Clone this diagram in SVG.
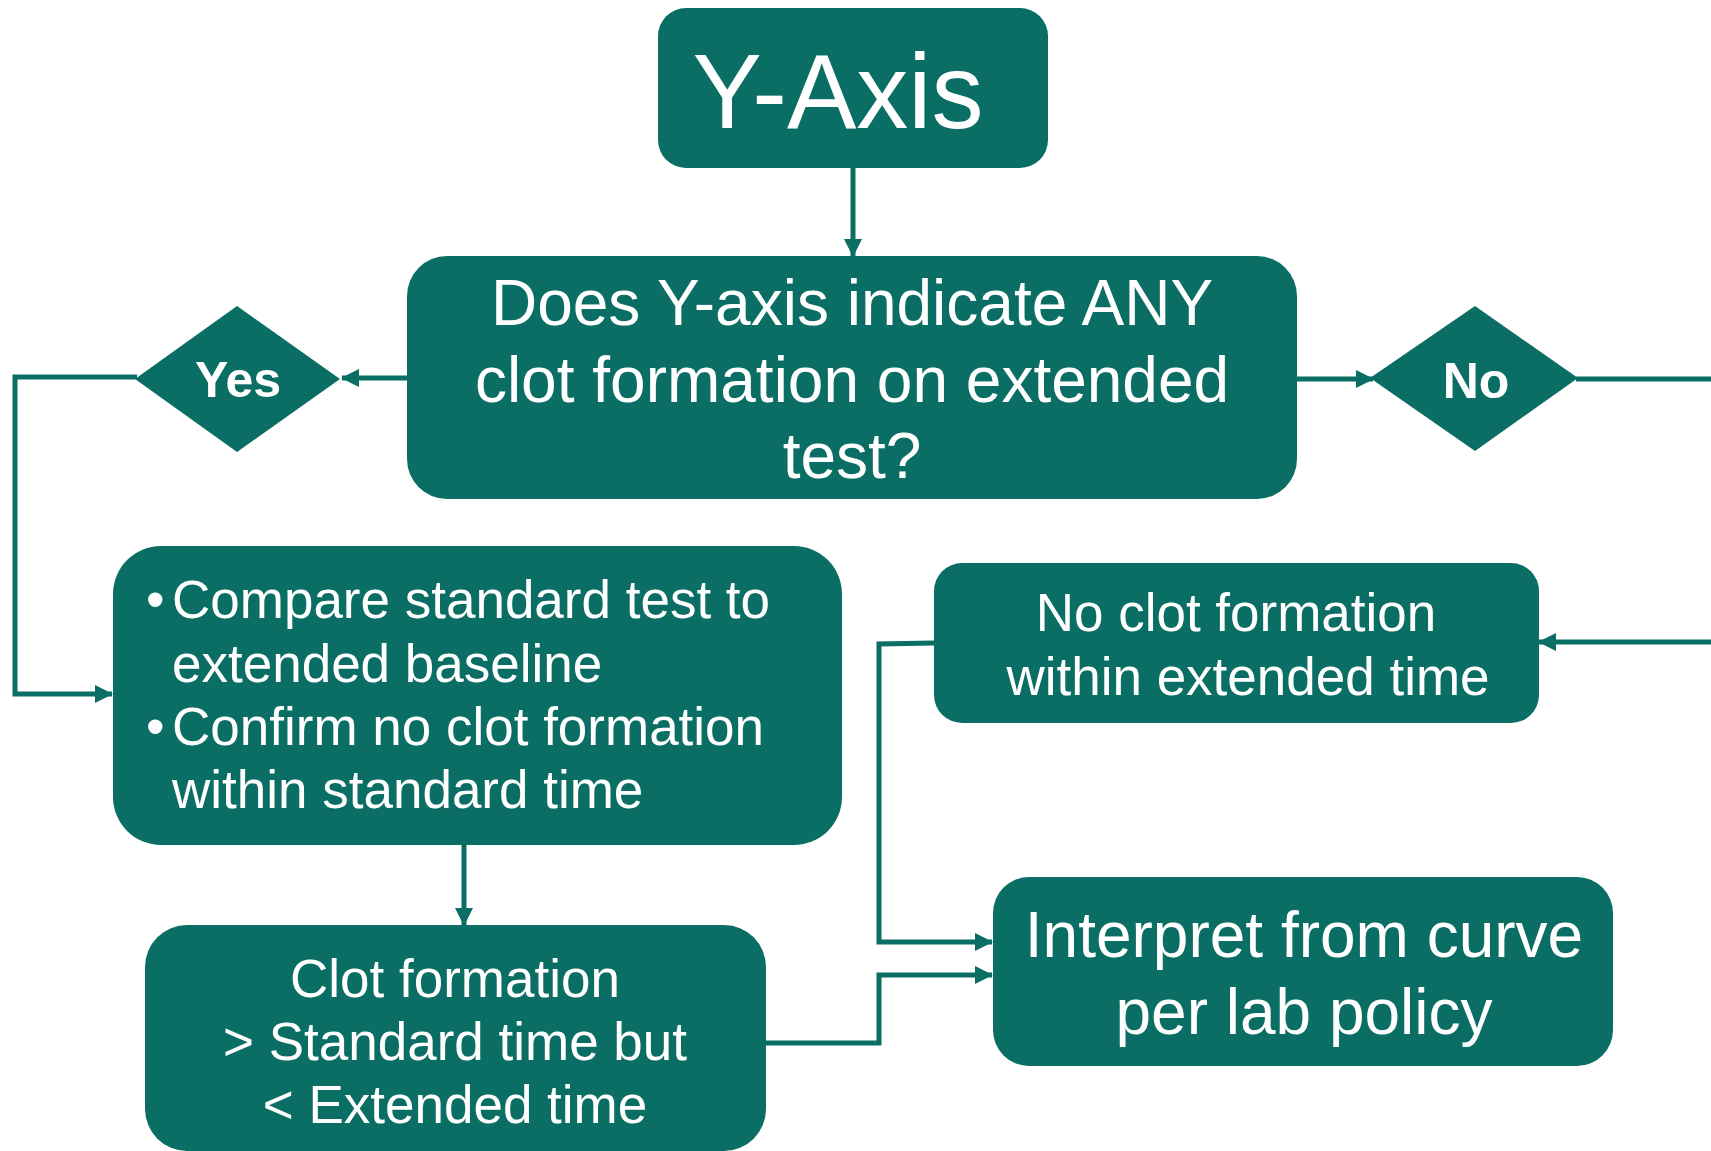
<svg xmlns="http://www.w3.org/2000/svg" width="1711" height="1151" viewBox="0 0 1711 1151">
<style>
.box{fill:#0b6e64}
.t{fill:#ffffff;font-family:"Liberation Sans",Arial,sans-serif;text-anchor:middle}
.tl{fill:#ffffff;font-family:"Liberation Sans",Arial,sans-serif;text-anchor:start}
.b{font-weight:bold}
.c{fill:none;stroke:#0b6e64;stroke-width:5}
</style>
<defs>
<marker id="ah" markerUnits="userSpaceOnUse" markerWidth="18" markerHeight="18" refX="17" refY="9" orient="auto">
<path d="M0,0 L18,9 L0,18 z" fill="#0b6e64"/>
</marker>
</defs>
<rect width="1711" height="1151" fill="#ffffff"/>
<g id="connectors">
<path class="c" d="M853,168 L853,256" marker-end="url(#ah)"/>
<path class="c" d="M408,378 L342,378" marker-end="url(#ah)"/>
<path class="c" d="M137,377 L15,377 L15,694 L112,694" marker-end="url(#ah)"/>
<path class="c" d="M1296,379 L1373,379" marker-end="url(#ah)"/>
<path class="c" d="M1576,379 L1711,379"/>
<path class="c" d="M1711,642 L1539,642" marker-end="url(#ah)"/>
<path class="c" d="M934,643 L879,644 L879,942 L992,942" marker-end="url(#ah)"/>
<path class="c" d="M766,1043 L879,1043 L879,975 L992,975" marker-end="url(#ah)"/>
<path class="c" d="M464,845 L464,925" marker-end="url(#ah)"/>
</g>
<g id="yaxis">
<rect class="box" x="658" y="8" width="390" height="160" rx="28"/>
<text class="t" x="838" y="128" font-size="106" textLength="291" lengthAdjust="spacingAndGlyphs">Y-Axis</text>
</g>
<g id="question">
<rect class="box" x="407" y="256" width="890" height="243" rx="40"/>
<text class="t" x="852" y="325" font-size="64">Does Y-axis indicate ANY</text>
<text class="t" x="852" y="402" font-size="64">clot formation on extended</text>
<text class="t" x="852" y="478" font-size="64">test?</text>
</g>
<g id="yes">
<polygon class="box" points="135,379 237,306 340,379 237,452"/>
<text class="t b" x="238" y="397" font-size="50">Yes</text>
</g>
<g id="no">
<polygon class="box" points="1370,378 1475,306 1578,378 1475,451"/>
<text class="t b" x="1476" y="398" font-size="50">No</text>
</g>
<g id="compare">
<rect class="box" x="113" y="546" width="729" height="299" rx="48"/>
<text class="tl" x="146" y="618" font-size="53">•</text>
<text class="tl" x="172" y="618" font-size="53">Compare standard test to</text>
<text class="tl" x="172" y="682" font-size="53">extended baseline</text>
<text class="tl" x="146" y="745" font-size="53">•</text>
<text class="tl" x="172" y="745" font-size="53">Confirm no clot formation</text>
<text class="tl" x="172" y="808" font-size="53">within standard time</text>
</g>
<g id="noclot">
<rect class="box" x="934" y="563" width="605" height="160" rx="28"/>
<text class="t" x="1236" y="631" font-size="53">No clot formation</text>
<text class="t" x="1248" y="695" font-size="53">within extended time</text>
</g>
<g id="interpret">
<rect class="box" x="993" y="877" width="620" height="189" rx="36"/>
<text class="t" x="1304" y="957" font-size="64">Interpret from curve</text>
<text class="t" x="1304" y="1034" font-size="64">per lab policy</text>
</g>
<g id="clot">
<rect class="box" x="145" y="925" width="621" height="226" rx="42"/>
<text class="t" x="455" y="997" font-size="53">Clot formation</text>
<text class="t" x="455" y="1060" font-size="53">&gt; Standard time but</text>
<text class="t" x="455" y="1123" font-size="53">&lt; Extended time</text>
</g>
</svg>
